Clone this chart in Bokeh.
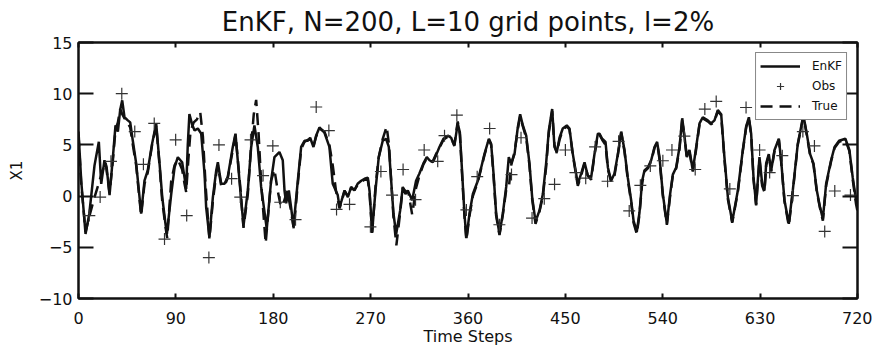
from bokeh.plotting import figure
from bokeh.models import LinearAxis, Range1d, FixedTicker, Legend, LegendItem, CustomLabelingPolicy
from bokeh.embed import file_html
from bokeh.resources import INLINE

# ---------------- data ----------------
enkf_t = [0, 2.5, 6.5, 10, 14.8, 18.8, 21, 24, 26, 28.7, 31.8, 34.2, 36.4, 38.5, 40.4, 42.5, 45.6, 47.8, 50.2, 53.3,
          55.8, 57.9, 61, 64, 68, 71.8, 74.9, 77.4, 80.4, 81.7, 85.7, 88.8, 91.8, 95.8, 98, 99.5, 101, 102.5, 105, 107.3,
          110.3, 113.4, 116.5, 118, 121, 124.2, 127.3, 128.8, 131.9, 135, 138, 142.6, 145.1, 148.8, 152.5, 156.5, 159.6,
          162.6, 165.7, 168.8, 174, 178, 181.1, 185.7, 188.8, 190.4, 191.9, 194.4, 196.5, 198.7, 202.7, 205.8, 208.9,
          212, 214.1, 217.2, 219.6, 222.7, 227.3, 231.9, 235, 239.6, 241.3, 243, 245.9, 249, 252, 255, 258, 261.3, 264.4,
          267.4, 269, 271.4, 274.5, 277.5, 281.2, 284.3, 286.8, 289, 291.1, 293.6, 297.3, 299.7, 302.2, 304.4, 308.4,
          312, 315.1, 318.8, 321.9, 324.4, 327.5, 330.5, 333.6, 337.3, 341.3, 344.4, 347.4, 350.5, 352.5, 355, 356.7,
          358.5, 361.4, 364.5, 369.1, 372.2, 375.2, 379.3, 381.4, 383.6, 386, 389.1, 392.2, 395.3, 397.7, 399.9, 403,
          406, 408.2, 410.7, 413.8, 416.8, 419.3, 422.4, 426.1, 429.2, 432.2, 434.7, 437.8, 439.9, 442.1, 444.6, 447.6,
          451.3, 453.8, 456.9, 461.5, 464.6, 467.7, 470.7, 473.8, 476.9, 480, 481.5, 484, 487.1, 489.3, 492.3, 495.4,
          498.5, 501.6, 504.6, 507.7, 510.8, 513, 516, 518.5, 521, 523.1, 526.2, 529.3, 532.4, 534.8, 537, 540.1, 543.8,
          546.8, 549.3, 552.4, 555.5, 558, 560.1, 562.3, 564.7, 567.8, 570.9, 574, 577, 581.6, 584.7, 587.8, 590.9, 594,
          597, 600.2, 604.2, 609.4, 614, 617.1, 619.6, 621.7, 623.9, 626.3, 629.4, 631.9, 634, 635.6, 638, 640.2, 643.3,
          647.3, 649.4, 652.5, 656.5, 660.2, 664.8, 670, 673.1, 676.2, 679.3, 682.4, 685.4, 688, 691, 695.6, 698.8, 703,
          708.8, 712.5, 715.6, 718.7, 720]
enkf_v = [6.3, 1.5, -3.7, -1.7, 3.0, 5.3, 1.2, 3.5, 2.8, 0.1, 3.8, 6.9, 6.3, 8.4, 9.35, 7.7, 7.4, 7.2, 5.4, 3.2,
          0.55, -1.7, 1.5, 2.5, 5.1, 7.1, 3.2, -0.1, -2.7, -3.7, 0.2, 2.8, 3.8, 3.3, 1.8, 0.7, 5.0, 8.0, 7.0, 6.4,
          6.6, 6.1, 2.2, -1.1, -4.0, -0.1, 2.5, 3.3, 1.2, 1.2, 1.9, 4.8, 6.1, 1.5, -2.9, 0.55, 4.8,
          6.9, 4.8, 0.9, -3.2, 1.5, 3.8, 4.3, 3.5, 0.55, -0.7, 0.55, -1.1, -3.0, 1.5, 4.8, 5.4,
          5.4, 5.7, 4.8, 5.9, 6.7, 6.2, 4.8, 1.2, 0.1, -1.1, -0.5, 0.55, -0.1, 0.9, 0.55, 1.2, 1.5, 1.7,
          1.8, 0.5, -3.5, 0.55, 3.8, 5.4, 5.6, 4.8, 1.5, -1.7, -3.7, -1.4, 0.9, 0.2, 0.55, -0.4,
          1.5, 2.2, 3.2, 3.8, 3.5, 3.3, 4.0, 4.8, 5.6, 5.9, 5.7, 4.9, 7.1, 6.2, 1.5, -1.7,
          -4.1, -1.7, 0.2, 1.5, 2.8, 4.1, 5.6, 5.1, 2.2, -1.7, -3.7, -1.7, 0.9, 3.8, 3.2, 4.1,
          6.7, 8.0, 6.9, 5.9, 3.2, -0.1, -2.5, -1.4, 0.2, 3.2, 6.4, 8.5, 4.8, 4.3, 5.7, 6.6,
          6.9, 6.6, 4.1, 1.2, 2.2, 3.3, 2.0, 1.8, 4.1, 6.1, 6.1, 5.6, 5.3, 2.8, 1.5, 2.2,
          4.1, 6.3, 4.5, 1.8, -0.4, -2.4, -3.5, -1.6, 1.5, 2.5, 2.8, 3.5, 4.8, 5.3, 3.8, 0.2, -2.7,
          0.2, 2.1, 2.8, 4.8, 7.6, 5.8, 3.8, 4.5, 2.5, 4.8, 7.1, 7.7, 7.4, 7.1, 7.4, 8.4, 8.0,
          3.8, -0.1, -2.5, 0.55, 4.5, 6.8, 7.7, 6.1, 1.8, -0.8, 3.8, 1.2, 0.55, 3.2, 4.1, 2.5, 4.5,
          5.6, 3.5, -0.4, -2.7, 0.55, 5.1, 7.9, 6.1, 4.1, 3.2, 0.55, -1.1, -2.2, 1.2, 3.5, 4.8, 5.4,
          5.6, 4.5, 1.8, -0.4, -0.6]

true_t = [0, 2.5, 6.5, 10, 14, 18, 22, 25, 28.7, 31.8, 34.2, 36.4, 38.5, 40.4, 42.5, 45.6, 47.8, 50.2, 53.3, 55.8,
          57.9, 61, 64, 68, 71.8, 74.9, 77.4, 80.4, 82, 85.7, 88.8, 91.8, 95.8, 98, 99.5, 101.5, 103.5, 106.5, 109.5,
          112.5, 115, 117.5, 121, 124.2, 127.3, 128.8, 131.9, 135, 138, 142.6, 145.1, 148.8, 152.5, 156.5, 159.6, 162,
          164.2, 166.5, 169, 173, 178, 181.1, 184, 187, 190, 193, 196, 199, 202.7, 205.8, 208.9, 212, 214.1, 217.2,
          219.6, 222.7, 227.3, 231.9, 235, 238, 241.3, 243, 245.9, 249, 252, 255, 258, 261.3, 264.4, 267.4, 269, 271.4,
          274.5, 277.5, 281.2, 284.8, 287, 289, 291.1, 293.8, 297.3, 299.7, 302.2, 305, 308.4, 312, 315.1, 318.8, 321.9,
          324.4, 327.5, 330.5, 333.6, 337.3, 341.3, 344.4, 347.4, 350.5, 352.5, 355, 356.7, 358.5, 361.4, 364.5, 369.1,
          372.2, 375.2, 379.3, 381.4, 383.6, 386, 389.1, 392.2, 395.3, 397.7, 399.9, 403, 406, 408.2, 410.7, 413.8,
          416.8, 419.3, 422.4, 426.1, 429.2, 432.2, 434.7, 437.8, 439.9, 442.1, 444.6, 447.6, 451.3, 453.8, 456.9,
          461.5, 464.6, 467.7, 470.7, 473.8, 476.9, 480, 481.5, 484, 487.1, 489.3, 492.3, 495.4, 498.5, 501.6, 504.6,
          507.7, 510.8, 513, 516, 518.5, 521, 523.1, 526.2, 529.3, 532.4, 534.8, 537, 540.1, 543.8, 546.8, 549.3, 552.4,
          555.5, 558, 560.1, 562.3, 564.7, 567.8, 570.9, 574, 577, 581.6, 584.7, 587.8, 590.9, 594, 597, 600.2, 604.2,
          609.4, 614, 617.1, 619.6, 621.7, 623.9, 626.3, 629.4, 631.9, 634, 635.6, 638, 640.2, 643.3, 647.3, 649.4,
          652.5, 656.5, 660.2, 664.8, 670, 673.1, 676.2, 679.3, 682.4, 685.4, 688, 691, 695.6, 698.8, 703, 708.8, 712.5,
          715.6, 718.7, 720]
true_v = [6.0, 1.2, -3.5, -2.0, -0.4, 1.0, 2.4, 3.3, 0.3, 3.5, 6.5, 7.2, 8.5, 8.0, 7.6, 7.1, 6.7, 5.0, 3.0, 0.3,
          -1.9, 1.2, 2.3, 5.0, 6.9, 3.0, -0.5, -3.0, -4.1, 1.5, 3.0, 3.6, 2.6, 1.2, 0.4, 3.5, 6.3, 7.2, 7.5,
          8.2, 5.8, 1.0, -4.2, -0.5, 2.2, 3.0, 1.0, 1.0, 1.8, 4.5, 6.0, 1.8, -3.1, 0.2, 5.0, 8.0,
          9.4, 6.0, 1.0, -4.6, 1.5, 2.6, 0.6, -1.0, -0.5, 0.5, -1.2, -3.2, 1.2, 4.6, 5.3, 5.5, 5.5, 4.9,
          5.8, 6.6, 6.3, 5.0, 3.0, 0.5, -1.2, -0.6, 0.5, 0.0, 0.8, 0.6, 1.1, 1.4, 1.6, 1.6, 0.3, -3.6,
          0.9, 3.8, 5.6, 6.8, 5.0, 1.5, -2.0, -4.8, -1.6, 0.8, 0.5, 0.3, -1.8, 0.8, 2.0, 3.1, 3.7,
          3.4, 3.4, 4.1, 4.7, 5.5, 5.8, 5.6, 5.0, 7.3, 6.0, 1.2, -1.9, -4.3, -1.9, 0.0, 1.4,
          2.7, 4.0, 5.5, 5.0, 2.0, -1.9, -3.8, -1.8, 0.6, 0.8, 3.0, 4.3, 6.5, 7.8, 6.8, 5.7,
          3.0, -0.3, -2.7, -1.5, 0.0, 2.8, 6.2, 8.3, 5.0, 4.2, 5.5, 6.5, 6.8, 6.5, 4.0,
          1.0, 2.0, 3.2, 2.0, 1.6, 4.0, 6.0, 6.0, 5.5, 5.0, 2.6, 1.4, 2.0, 4.0, 6.2, 4.4,
          1.6, -0.6, -2.6, -3.7, -1.8, 1.3, 2.4, 2.7, 3.4, 4.7, 5.2, 3.6, 0.0, -2.8, 0.0, 2.0, 2.7,
          4.6, 7.5, 5.7, 3.7, 4.3, 2.4, 4.6, 7.0, 7.6, 7.3, 7.0, 7.3, 8.3, 7.9, 3.6, -0.3, -2.6,
          0.4, 4.4, 6.7, 7.6, 6.0, 1.6, -0.9, 3.6, 1.0, 0.4, 3.0, 4.0, 2.4, 4.4, 5.5, 3.4,
          -0.5, -2.9, 0.4, 5.0, 7.8, 6.0, 4.0, 3.1, 0.4, -1.2, -2.4, 1.0, 3.4, 4.7, 5.3, 5.5, 4.4,
          1.6, -0.8, -1.5]

obs_t = [10, 20, 30, 40, 52, 60, 70, 79.5, 89.8, 100, 120.5, 129.8, 141.5, 149.5, 159, 170.6, 179.6, 186.5, 200.6,
         219.7, 231.4, 238.5, 250.5, 269.8, 279.5, 289.8, 300, 311.5, 319.5, 332, 338.3, 349.7, 358.5, 368.5, 380,
         389, 400.2, 409, 419.2, 430.5, 440, 450, 459.3, 468.8, 477.5, 489, 499.2, 509, 519.3, 528.5, 540.1, 548.5,
         560, 570, 578.9, 589.4, 602, 617, 629.5, 638.8, 650.5, 660.3, 669.5, 680.2, 689.7, 699, 713.5]
obs_v = [-1.9, -0.1, 3.4, 10.0, 6.3, 3.1, 7.1, -4.2, 5.5, -1.9, -6.0, 5.0, 1.7, -0.1, 5.5, 2.0, 4.9, -0.6, -2.3,
         8.7, 6.4, -1.3, -0.8, -3.0, 2.4, 0.1, 2.6, -0.35, 4.5, 3.4, 5.9, 7.9, -1.35, 1.9, 6.6,
         -2.8, 2.1, 5.7, -2.15, -0.25, 1.15, 4.5, 2.3, 1.75, 4.8, 1.45, 5.35, -1.45, 1.05, 2.95, 3.45, 4.5,
         5.85, 2.6, 8.5, 9.25, 0.7, 8.65, 4.5, 2.3, 3.95, 0.05, 6.3, 4.9, -3.45, 0.5, 0.1]

x_ticks = [0, 90, 180, 270, 360, 450, 540, 630, 720]
y_ticks = [-10, -5, 0, 5, 10, 15]
title_text = "EnKF, N=200, L=10 grid points, l=2%"

FONT = "DejaVu Sans"
INK = "#111111"

p = figure(width=872, height=349, output_backend="svg", toolbar_location=None,
           x_range=Range1d(0, 720), y_range=Range1d(-10, 15),
           min_border_left=78, min_border_right=15, min_border_top=42, min_border_bottom=51,
           x_axis_label="Time Steps", y_axis_label="X1")
p.xgrid.visible = False
p.ygrid.visible = False
p.background_fill_color = "white"
p.border_fill_color = "white"
p.outline_line_color = INK
p.outline_line_width = 2

p.title.text = title_text
p.title.align = "center"
p.title.text_font = FONT
p.title.text_font_size = "26px"
p.title.text_font_style = "normal"
p.title.text_color = INK
p.title.standoff = 4

def style_axis(ax, tick_in, show_labels):
    ax.axis_line_color = INK
    ax.axis_line_width = 2
    ax.major_tick_line_color = INK
    ax.major_tick_line_width = 2
    ax.major_tick_in = tick_in
    ax.major_tick_out = 0
    ax.minor_tick_line_color = None
    ax.major_label_text_font = FONT
    ax.major_label_text_color = INK
    if show_labels:
        ax.major_label_text_font_size = "16px"
    else:
        ax.major_label_text_font_size = "1px"
        ax.major_label_standoff = 0
        ax.major_label_policy = CustomLabelingPolicy(code="return new Set()")

xa = p.xaxis[0]
xa.ticker = FixedTicker(ticks=x_ticks)
style_axis(xa, 5, True)
xa.major_label_standoff = 13
xa.axis_label_standoff = 0
xa.axis_label_text_font = FONT
xa.axis_label_text_font_size = "16px"
xa.axis_label_text_font_style = "normal"
xa.axis_label_text_color = INK

ya = p.yaxis[0]
ya.ticker = FixedTicker(ticks=y_ticks)
style_axis(ya, 15, True)
ya.major_label_standoff = 6
ya.axis_label_standoff = 10
ya.axis_label_text_font = FONT
ya.axis_label_text_font_size = "15px"
ya.axis_label_text_font_style = "normal"
ya.axis_label_text_color = INK

top = LinearAxis(ticker=FixedTicker(ticks=x_ticks))
style_axis(top, 5, False)
p.add_layout(top, "above")
right = LinearAxis(ticker=FixedTicker(ticks=y_ticks))
style_axis(right, 15, False)
p.add_layout(right, "right")

r_true = p.line(true_t, true_v, line_color=INK, line_width=2.5, line_dash="12 7")
r_enkf = p.line(enkf_t, enkf_v, line_color=INK, line_width=2.5)
r_obs = p.scatter(obs_t, obs_v, marker="cross", size=12, line_color="#333333", line_width=1.2)

legend = Legend(items=[LegendItem(label="EnKF", renderers=[r_enkf]),
                       LegendItem(label="Obs", renderers=[r_obs]),
                       LegendItem(label="True", renderers=[r_true])],
                location="top_right")
legend.margin = 10
legend.padding = 4
legend.spacing = 2
legend.glyph_width = 40
legend.glyph_height = 18
legend.label_height = 18
legend.label_standoff = 12
legend.label_text_font = FONT
legend.label_text_font_size = "12px"
legend.label_text_color = INK
legend.border_line_color = INK
legend.border_line_width = 1
legend.background_fill_color = "white"
legend.background_fill_alpha = 1.0
p.add_layout(legend, "center")

open("out.html", "w").write(file_html(p, INLINE))
